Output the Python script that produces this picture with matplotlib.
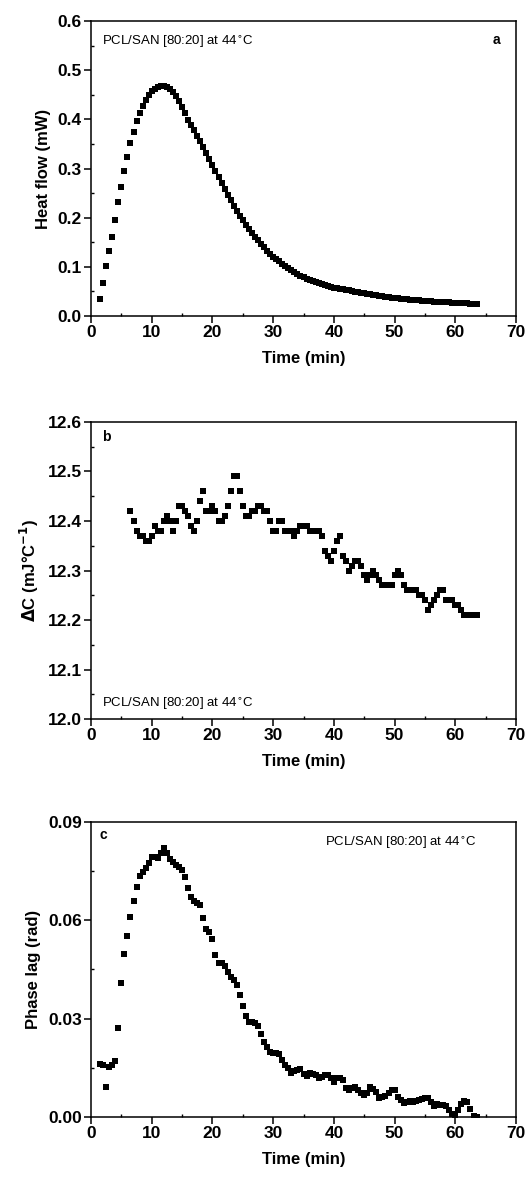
import matplotlib
matplotlib.use("Agg")
import matplotlib.pyplot as plt
from matplotlib.ticker import MultipleLocator, FormatStrFormatter

plt.rcParams['font.family'] = ['Liberation Sans', 'DejaVu Sans']

# panel a: heat flow (mW) vs time (min)
time_a = [1.5, 2.0, 2.5, 3.0, 3.5, 4.0, 4.5, 5.0, 5.5, 6.0, 6.5, 7.0, 7.5, 8.0, 8.5,
          9.0, 9.5, 10.0, 10.5, 11.0, 11.5, 12.0, 12.5, 13.0, 13.5, 14.0, 14.5, 15.0,
          15.5, 16.0, 16.5, 17.0, 17.5, 18.0, 18.5, 19.0, 19.5, 20.0, 20.5, 21.0, 21.5,
          22.0, 22.5, 23.0, 23.5, 24.0, 24.5, 25.0, 25.5, 26.0, 26.5, 27.0, 27.5, 28.0,
          28.5, 29.0, 29.5, 30.0, 30.5, 31.0, 31.5, 32.0, 32.5, 33.0, 33.5, 34.0, 34.5,
          35.0, 35.5, 36.0, 36.5, 37.0, 37.5, 38.0, 38.5, 39.0, 39.5, 40.0, 40.5, 41.0,
          41.5, 42.0, 42.5, 43.0, 43.5, 44.0, 44.5, 45.0, 45.5, 46.0, 46.5, 47.0, 47.5,
          48.0, 48.5, 49.0, 49.5, 50.0, 50.5, 51.0, 51.5, 52.0, 52.5, 53.0, 53.5, 54.0,
          54.5, 55.0, 55.5, 56.0, 56.5, 57.0, 57.5, 58.0, 58.5, 59.0, 59.5, 60.0, 60.5,
          61.0, 61.5, 62.0, 62.5, 63.0, 63.5]
heat_flow = [0.034, 0.067, 0.102, 0.132, 0.161, 0.195, 0.231, 0.263, 0.294, 0.324,
             0.351, 0.374, 0.396, 0.413, 0.428, 0.440, 0.450, 0.457, 0.462, 0.466,
             0.468, 0.468, 0.466, 0.462, 0.455, 0.447, 0.437, 0.425, 0.412, 0.399,
             0.388, 0.378, 0.367, 0.356, 0.344, 0.332, 0.320, 0.308, 0.295, 0.283,
             0.271, 0.259, 0.247, 0.235, 0.224, 0.214, 0.204, 0.195, 0.186, 0.177,
             0.169, 0.161, 0.154, 0.147, 0.140, 0.133, 0.127, 0.121, 0.116, 0.111,
             0.106, 0.101, 0.097, 0.093, 0.089, 0.086, 0.082, 0.079, 0.076, 0.073,
             0.071, 0.069, 0.067, 0.065, 0.063, 0.061, 0.060, 0.058, 0.057, 0.055,
             0.054, 0.053, 0.052, 0.050, 0.049, 0.048, 0.047, 0.046, 0.045, 0.044,
             0.043, 0.042, 0.041, 0.040, 0.039, 0.038, 0.037, 0.036, 0.036, 0.035,
             0.034, 0.034, 0.033, 0.033, 0.032, 0.032, 0.031, 0.031, 0.030, 0.030,
             0.029, 0.029, 0.029, 0.028, 0.028, 0.028, 0.027, 0.027, 0.027, 0.026,
             0.026, 0.026, 0.025, 0.025, 0.025]

# panel b: delta C (mJ/°C) vs time (min)
time_b = [6.5, 7.0, 7.5, 8.0, 8.5, 9.0, 9.5, 10.0, 10.5, 11.0, 11.5, 12.0, 12.5, 13.0,
          13.5, 14.0, 14.5, 15.0, 15.5, 16.0, 16.5, 17.0, 17.5, 18.0, 18.5, 19.0, 19.5,
          20.0, 20.5, 21.0, 21.5, 22.0, 22.5, 23.0, 23.5, 24.0, 24.5, 25.0, 25.5, 26.0,
          26.5, 27.0, 27.5, 28.0, 28.5, 29.0, 29.5, 30.0, 30.5, 31.0, 31.5, 32.0, 32.5,
          33.0, 33.5, 34.0, 34.5, 35.0, 35.5, 36.0, 36.5, 37.0, 37.5, 38.0, 38.5, 39.0,
          39.5, 40.0, 40.5, 41.0, 41.5, 42.0, 42.5, 43.0, 43.5, 44.0, 44.5, 45.0, 45.5,
          46.0, 46.5, 47.0, 47.5, 48.0, 48.5, 49.0, 49.5, 50.0, 50.5, 51.0, 51.5, 52.0,
          52.5, 53.0, 53.5, 54.0, 54.5, 55.0, 55.5, 56.0, 56.5, 57.0, 57.5, 58.0, 58.5,
          59.0, 59.5, 60.0, 60.5, 61.0, 61.5, 62.0, 62.5, 63.0, 63.5]
delta_c = [12.42, 12.40, 12.38, 12.37, 12.37, 12.36, 12.36, 12.37, 12.39, 12.38, 12.38,
           12.40, 12.41, 12.40, 12.38, 12.40, 12.43, 12.43, 12.42, 12.41, 12.39, 12.38,
           12.40, 12.44, 12.46, 12.42, 12.42, 12.43, 12.42, 12.40, 12.40, 12.41, 12.43,
           12.46, 12.49, 12.49, 12.46, 12.43, 12.41, 12.41, 12.42, 12.42, 12.43, 12.43,
           12.42, 12.42, 12.40, 12.38, 12.38, 12.40, 12.40, 12.38, 12.38, 12.38, 12.37,
           12.38, 12.39, 12.39, 12.39, 12.38, 12.38, 12.38, 12.38, 12.37, 12.34, 12.33,
           12.32, 12.34, 12.36, 12.37, 12.33, 12.32, 12.30, 12.31, 12.32, 12.32, 12.31,
           12.29, 12.28, 12.29, 12.30, 12.29, 12.28, 12.27, 12.27, 12.27, 12.27, 12.29,
           12.30, 12.29, 12.27, 12.26, 12.26, 12.26, 12.26, 12.25, 12.25, 12.24, 12.22,
           12.23, 12.24, 12.25, 12.26, 12.26, 12.24, 12.24, 12.24, 12.23, 12.23, 12.22,
           12.21, 12.21, 12.21, 12.21, 12.21]

# panel c: phase lag (rad) vs time (min)
time_c = time_a
phase_lag = [0.0162, 0.0159, 0.0092, 0.0152, 0.0160, 0.0172, 0.0272, 0.0410, 0.0497,
             0.0552, 0.0611, 0.0659, 0.0700, 0.0735, 0.0748, 0.0759, 0.0774, 0.0792,
             0.0792, 0.0790, 0.0805, 0.0820, 0.0805, 0.0786, 0.0779, 0.0770, 0.0762,
             0.0754, 0.0731, 0.0698, 0.0672, 0.0660, 0.0654, 0.0647, 0.0606, 0.0573,
             0.0565, 0.0542, 0.0494, 0.0471, 0.0469, 0.0461, 0.0443, 0.0428, 0.0418,
             0.0403, 0.0372, 0.0337, 0.0308, 0.0291, 0.0290, 0.0288, 0.0276, 0.0253,
             0.0230, 0.0214, 0.0199, 0.0196, 0.0195, 0.0192, 0.0174, 0.0159, 0.0149,
             0.0135, 0.0140, 0.0143, 0.0146, 0.0130, 0.0125, 0.0133, 0.0130, 0.0128,
             0.0118, 0.0122, 0.0128, 0.0128, 0.0120, 0.0108, 0.0118, 0.0118, 0.0112,
             0.0088, 0.0082, 0.0088, 0.0092, 0.0082, 0.0072, 0.0067, 0.0072, 0.0091,
             0.0085, 0.0077, 0.0057, 0.0060, 0.0064, 0.0072, 0.0082, 0.0082, 0.0060,
             0.0052, 0.0044, 0.0047, 0.0050, 0.0047, 0.0050, 0.0052, 0.0054, 0.0057,
             0.0057, 0.0045, 0.0034, 0.0040, 0.0037, 0.0036, 0.0034, 0.0021, 0.0010,
             0.0003, 0.0021, 0.0040, 0.0050, 0.0047, 0.0024, 0.0003, 0.0000]

sample = 'PCL/SAN [80:20] at 44$^{\\circ}$C'

fig = plt.figure(figsize=(5.27, 11.78), dpi=100)
ax1 = fig.add_axes([0.1727, 0.7317, 0.8065, 0.2505])
ax2 = fig.add_axes([0.1727, 0.3896, 0.8065, 0.2522])
ax3 = fig.add_axes([0.1727, 0.0518, 0.8065, 0.2505])


def style(ax, ylim, ymaj, ymin, fmt, ylabel):
    ax.set_xlim(0, 70)
    ax.set_ylim(*ylim)
    ax.xaxis.set_major_locator(MultipleLocator(10))
    ax.xaxis.set_minor_locator(MultipleLocator(5))
    ax.yaxis.set_major_locator(MultipleLocator(ymaj))
    ax.yaxis.set_minor_locator(MultipleLocator(ymin))
    ax.yaxis.set_major_formatter(FormatStrFormatter(fmt))
    ax.tick_params(which='major', direction='out', length=5, width=1.1,
                   labelsize=12.5, pad=1.5)
    ax.tick_params(which='minor', direction='in', length=2.5, width=1)
    for lab in ax.get_xticklabels() + ax.get_yticklabels():
        lab.set_fontweight('bold')
    for sp in ax.spines.values():
        sp.set_linewidth(1.1)
    ax.set_xlabel('Time (min)', fontsize=12, fontweight='bold', labelpad=8)
    ax.set_ylabel(ylabel, fontsize=12, fontweight='bold', labelpad=5)


ax1.plot(time_a, heat_flow, 's', color='black', ms=4.8, mew=0)
style(ax1, (0, 0.6), 0.1, 0.05, '%.1f', 'Heat flow (mW)')
ax1.text(0.025, 0.93, sample, transform=ax1.transAxes, fontsize=9.5, va='center')
ax1.text(0.955, 0.935, 'a', transform=ax1.transAxes, fontsize=10,
         fontweight='bold', va='center', ha='center')

ax2.plot(time_b, delta_c, 's', color='black', ms=4.8, mew=0)
style(ax2, (12.0, 12.6), 0.1, 0.05, '%.1f', r'$\mathbf{\Delta}$C (mJ°C$^{\mathbf{-1}}$)')
ax2.text(0.025, 0.05, sample, transform=ax2.transAxes, fontsize=9.5, va='center')
ax2.text(0.025, 0.95, 'b', transform=ax2.transAxes, fontsize=10,
         fontweight='bold', va='center')

ax3.plot(time_c, phase_lag, 's', color='black', ms=4.8, mew=0)
style(ax3, (0, 0.09), 0.03, 0.015, '%.2f', 'Phase lag (rad)')
ax3.text(0.55, 0.93, sample, transform=ax3.transAxes, fontsize=9.5, va='center')
ax3.text(0.02, 0.955, 'c', transform=ax3.transAxes, fontsize=10,
         fontweight='bold', va='center')

fig.savefig('out.png', dpi=100)
